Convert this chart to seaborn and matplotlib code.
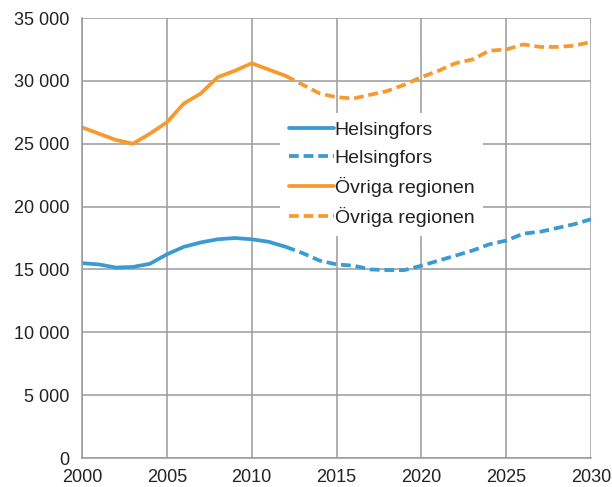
import numpy as np
import pandas as pd
import seaborn as sns
import matplotlib.pyplot as plt
from matplotlib.ticker import FuncFormatter

# yearly values
years_hist = list(range(2000, 2013))
years_proj = list(range(2012, 2031))

helsingfors_hist = [15500, 15400, 15150, 15200, 15450, 16200, 16800, 17150,
                    17400, 17500, 17400, 17200, 16800]
helsingfors_proj = [16800, 16300, 15700, 15400, 15300, 15000, 14950, 14950,
                    15300, 15700, 16100, 16500, 17000, 17300, 17850, 18000,
                    18300, 18600, 19000]
ovriga_hist = [26300, 25800, 25300, 25000, 25800, 26700, 28200, 29000,
               30300, 30800, 31400, 30900, 30400]
ovriga_proj = [30400, 29700, 29000, 28700, 28600, 28900, 29200, 29700,
               30300, 30800, 31400, 31700, 32400, 32500, 32900, 32700,
               32700, 32800, 33100]

blue = '#3A9AD2'
orange = '#F69A30'
grid_gray = '#9A9A9A'

sns.set_theme(style="whitegrid")
plt.rcParams['font.family'] = ['Liberation Sans', 'DejaVu Sans']

fig = plt.figure(figsize=(6.12, 4.87), dpi=100)
ax = fig.add_axes([0.134, 0.0595, 0.832, 0.9035])

lw = 2.7
dash = (2.6, 1.3)
sns.lineplot(x=years_hist, y=helsingfors_hist, color=blue, linewidth=lw,
             label='Helsingfors', ax=ax)
sns.lineplot(x=years_proj, y=helsingfors_proj, color=blue, linewidth=lw,
             label='Helsingfors', ax=ax)
sns.lineplot(x=years_hist, y=ovriga_hist, color=orange, linewidth=lw,
             label='Övriga regionen', ax=ax)
sns.lineplot(x=years_proj, y=ovriga_proj, color=orange, linewidth=lw,
             label='Övriga regionen', ax=ax)
for i in (1, 3):
    ax.lines[i].set_dashes(dash)

ax.set_xlim(2000, 2030)
ax.set_ylim(0, 35000)
ax.set_xticks(range(2000, 2031, 5))
ax.set_yticks(range(0, 35001, 5000))
ax.yaxis.set_major_formatter(FuncFormatter(lambda v, p: f'{int(v):,}'.replace(',', ' ')))

ax.set_facecolor('white')
ax.grid(True, color=grid_gray, linewidth=1.1)
for side in ['top', 'right']:
    ax.spines[side].set_visible(False)
for side in ['left', 'bottom']:
    ax.spines[side].set_color(grid_gray)
    ax.spines[side].set_linewidth(1.1)
ax.tick_params(axis='both', which='major', labelsize=13, colors='#222222',
               length=5, width=1.1, color=grid_gray, direction='out')
ax.tick_params(axis='y', pad=4)
ax.tick_params(axis='x', pad=3)
ax.set_axisbelow(True)

leg = ax.legend(loc='upper left', bbox_to_anchor=(0.389, 0.785), fontsize=14,
                frameon=True, fancybox=False, edgecolor='none', framealpha=1,
                handlelength=2.3, handletextpad=0.05, labelspacing=0.52,
                borderpad=0.45, borderaxespad=0)
for t in leg.get_texts():
    t.set_color('#222222')
for h in leg.get_lines():
    h.set_linewidth(lw)
leg.get_lines()[1].set_dashes(dash)
leg.get_lines()[3].set_dashes(dash)

ax.set_xlabel('')
ax.set_ylabel('')

fig.savefig('out.png', dpi=100)
